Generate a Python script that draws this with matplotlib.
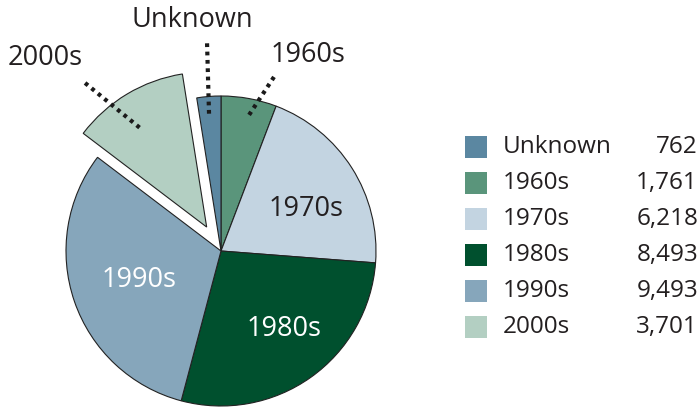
import matplotlib.pyplot as plt
from matplotlib.patches import Rectangle

categories = ['Unknown', '1960s', '1970s', '1980s', '1990s', '2000s']
counts = [762, 1761, 6218, 8493, 9493, 3701]
colors = ['#5b87a1', '#5a957b', '#c3d4e1', '#00502e', '#86a6bb', '#b3cfc2']

plt.rcParams['font.family'] = ['Open Sans', 'DejaVu Sans']
TXT = '#231f20'

fig = plt.figure(figsize=(7, 4.07), dpi=100)

# pie axes laid out in pixels: centre (221, 251 from top), radius 155 px
R = 155
cx, cy = 221, 407 - 251
half = 270
ax = fig.add_axes([(cx - half) / 700, (cy - half) / 407, 2 * half / 700, 2 * half / 407])

# clockwise from 12 o'clock: 1960s first, Unknown last
order = [1, 2, 3, 4, 5, 0]
wedges, _ = ax.pie([counts[i] for i in order],
                   colors=[colors[i] for i in order],
                   explode=[0.18 if categories[i] == '2000s' else 0 for i in order],
                   startangle=90, counterclock=False,
                   wedgeprops=dict(edgecolor='#222222', linewidth=0.8))
ax.set_xlim(-half / R, half / R)
ax.set_ylim(-half / R, half / R)
ax.set_aspect('auto')

# labels inside the slices
ax.text(0.55, 0.27, '1970s', color=TXT, fontsize=19.5, ha='center', va='center')
ax.text(0.41, -0.50, '1980s', color='white', fontsize=19.5, ha='center', va='center')
ax.text(-0.53, -0.19, '1990s', color='white', fontsize=19.5, ha='center', va='center')

# outside labels with dotted leaders
outside = [
    ('Unknown', (-0.187, 1.49), [(-0.09, 1.34), (-0.077, 0.877)]),
    ('2000s', (-1.135, 1.245), [(-0.877, 1.084), (-0.523, 0.794)]),
    ('1960s', (0.561, 1.265), [(0.342, 1.123), (0.168, 0.858)]),
]
for name, (tx, ty), pts in outside:
    ax.text(tx, ty, name, color=TXT, fontsize=19.5, ha='center', va='center')
    ax.plot([p[0] for p in pts], [p[1] for p in pts], color='#1a1a1a', lw=3.0,
            linestyle=(0, (0.9, 1.1)), dash_capstyle='butt', clip_on=False)

# legend with counts
lax = fig.add_axes([0, 0, 1, 1])
lax.set_xlim(0, 700)
lax.set_ylim(407, 0)
lax.axis('off')
for i, (name, n, c) in enumerate(zip(categories, counts, colors)):
    y = 147 + 36 * i
    lax.add_patch(Rectangle((465, y - 11), 22, 22, facecolor=c, edgecolor='none'))
    lax.text(503, y, name, color=TXT, fontsize=17.5, ha='left', va='center')
    lax.text(698, y, '{:,}'.format(n), color=TXT, fontsize=17.5, ha='right', va='center')

fig.savefig('out.png', dpi=100)
